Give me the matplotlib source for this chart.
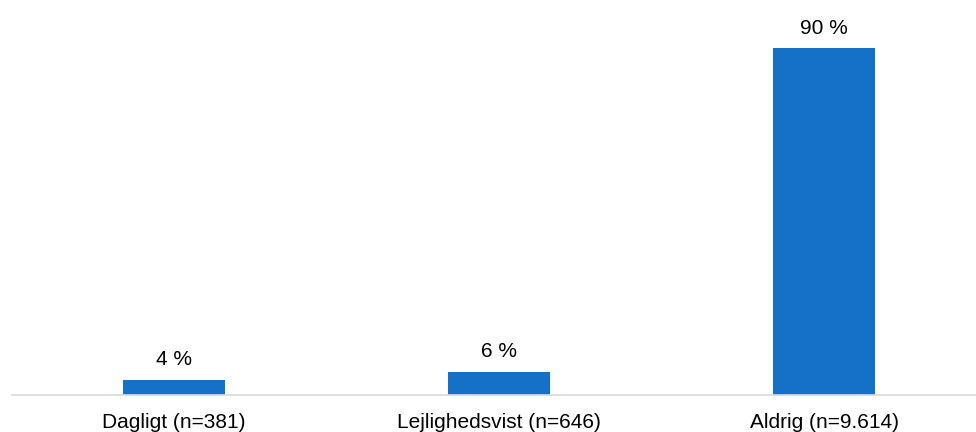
import matplotlib
matplotlib.use('Agg')
import matplotlib.pyplot as plt

# Data
categories = ['Dagligt (n=381)', 'Lejlighedsvist (n=646)', 'Aldrig (n=9.614)']
values = [4, 6, 90]
labels = ['4 %', '6 %', '90 %']

plt.rcParams['font.family'] = ['Liberation Sans', 'DejaVu Sans']

fig = plt.figure(figsize=(9.76, 4.32), dpi=100)
ax = fig.add_axes([11.5 / 976, 37 / 432, 975 / 976, (395 - 9.4) / 432])

x = range(len(categories))
bars = ax.bar(x, values, width=0.314, color='#1570C8')
for b, lab in zip(bars, labels):
    ax.text(b.get_x() + b.get_width() / 2, b.get_height() + 2.7, lab,
            ha='center', va='bottom', fontsize=15, color='#000000')

ax.set_xlim(-0.5, 2.5)
ax.set_ylim(0, 100)
ax.set_xticks(list(x))
ax.set_xticklabels(categories, fontsize=15)
ax.tick_params(axis='x', length=0, pad=13)
ax.set_yticks([])
for s in ['top', 'right', 'left']:
    ax.spines[s].set_visible(False)
ax.spines['bottom'].set_color('#D9D9D9')
ax.spines['bottom'].set_linewidth(1.2)

fig.savefig('out.png', dpi=100)
